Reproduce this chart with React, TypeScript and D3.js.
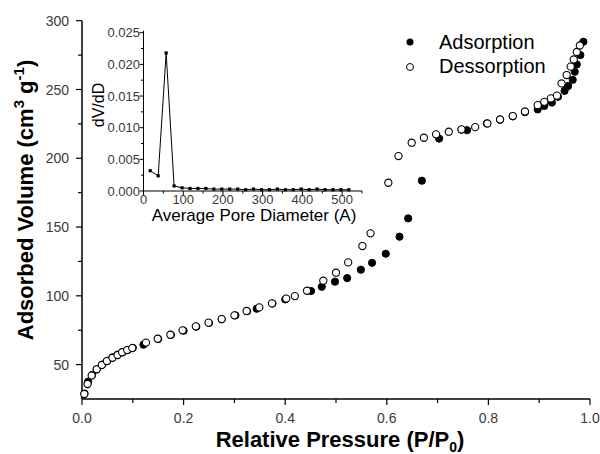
import React from "react";
import * as d3 from "d3";

// Main isotherm data (P/P0, volume cm3/g)
const adsorptionP = [0.005, 0.012, 0.02, 0.029, 0.04, 0.05, 0.06, 0.07, 0.08, 0.09, 0.1, 0.121, 0.15, 0.175, 0.2, 0.225, 0.25, 0.275, 0.302, 0.325, 0.344, 0.375, 0.4, 0.451, 0.472, 0.498, 0.522, 0.549, 0.571, 0.598, 0.625, 0.642, 0.669, 0.703, 0.747, 0.758, 0.797, 0.823, 0.848, 0.872, 0.897, 0.91, 0.925, 0.937, 0.95, 0.957, 0.966, 0.97, 0.974, 0.981, 0.987];
const adsorptionV = [29, 37.6, 42.5, 46.6, 50, 52.8, 55.2, 57.2, 59, 60.7, 62.2, 64.5, 68.6, 71.6, 74.7, 77.6, 80.3, 83, 85.8, 88.8, 90.6, 94.4, 97.4, 103.5, 106.6, 110.3, 112.9, 119, 124, 130.6, 143, 156.3, 183.7, 214.3, 220.8, 220.4, 225.3, 228, 230.5, 233.5, 235.5, 238, 240.5, 244.7, 249, 252.5, 257, 262.9, 268.2, 275, 284.7];

const desorptionP = [0.0045, 0.011, 0.019, 0.029, 0.039, 0.049, 0.06, 0.07, 0.079, 0.089, 0.099, 0.126, 0.149, 0.174, 0.198, 0.224, 0.249, 0.275, 0.3, 0.324, 0.349, 0.374, 0.402, 0.419, 0.443, 0.475, 0.5, 0.524, 0.552, 0.568, 0.603, 0.623, 0.649, 0.673, 0.697, 0.722, 0.747, 0.774, 0.798, 0.823, 0.848, 0.872, 0.897, 0.91, 0.923, 0.935, 0.944, 0.954, 0.962, 0.968, 0.974, 0.98];
const desorptionV = [28.6, 35.9, 42, 46.6, 49.7, 52.6, 55, 57, 59, 60.6, 62, 66, 68.8, 71.7, 74.9, 77.8, 80.5, 83.1, 85.8, 89, 91.6, 94.5, 98, 99.8, 103.7, 111, 116.8, 124.3, 136.2, 145.4, 182.2, 201.6, 211.3, 214.9, 217.4, 219.3, 221, 222.6, 225.3, 228.2, 230.7, 234, 238.6, 241, 243.5, 245.5, 254.4, 260.5, 266.6, 271.8, 277.3, 282];

// Inset: pore size distribution
const poreD = [17, 37, 57, 77, 97, 117, 137, 157, 177, 197, 217, 237, 257, 277, 297, 317, 337, 357, 377, 397, 417, 437, 457, 477, 497, 517];
const poreDV = [0.0032, 0.0024, 0.0218, 0.0008, 0.0005, 0.0004, 0.0004, 0.0004, 0.0003, 0.0003, 0.0003, 0.0003, 0.0002, 0.0003, 0.0002, 0.0002, 0.0003, 0.0002, 0.0002, 0.0003, 0.0002, 0.0003, 0.0002, 0.0002, 0.0002, 0.0002];

const mainXTicks = [0, 0.2, 0.4, 0.6, 0.8, 1.0];
const mainXMinor = [0.1, 0.3, 0.5, 0.7, 0.9];
const mainYTicks = [50, 100, 150, 200, 250, 300];
const mainYMinor = [75, 125, 175, 225, 275];
const insetXTicks = [0, 100, 200, 300, 400, 500];
const insetXMinor = [50, 150, 250, 350, 450, 550];
const insetYTicks = [0, 0.005, 0.01, 0.015, 0.02, 0.025];
const insetYMinor = [0.0025, 0.0075, 0.0125, 0.0175, 0.0225];

const legendLabels = ["Adsorption", "Dessorption"];

const FONT = "'Liberation Sans', Arial, Helvetica, sans-serif";

export default function App() {
  const x = d3.scaleLinear().domain([0, 1]).range([82, 590]);
  const y = d3.scaleLinear().domain([25, 300]).range([399, 20.7]);
  const ix = d3.scaleLinear().domain([0, 550]).range([143.5, 362]);
  const iy = d3.scaleLinear().domain([0, 0.025]).range([191, 32.7]);

  const ads = adsorptionP.map((p, i) => [p, adsorptionV[i]]);
  const des = desorptionP.map((p, i) => [p, desorptionV[i]]);
  const pore = poreD.map((d, i) => [d, poreDV[i]]);
  const line = d3.line<number[]>().x((d) => ix(d[0])).y((d) => iy(d[1]));

  const tickColor = "#3a3a3a";
  const r = 3.6;

  return (
    <svg width={600} height={454} style={{ position: "absolute", left: 0, top: 0, background: "#fff" }} fontFamily={FONT}>
      <rect x={0} y={0} width={600} height={454} fill="#fff" />
      {/* Main axes */}
      <line x1={x(0)} x2={x(0)} y1={y(300)} y2={y(25)} stroke="#000" strokeWidth={1.5} />
      <line x1={x(0)} x2={x(1)} y1={y(25)} y2={y(25)} stroke="#000" strokeWidth={1.5} />
      {mainXTicks.map((t) => (
        <g key={"mx" + t}>
          <line x1={x(t)} x2={x(t)} y1={y(25)} y2={y(25) + 6} stroke="#000" strokeWidth={1.2} />
          <text x={x(t)} y={423} textAnchor="middle" fontSize={14} fill={tickColor}>{d3.format(".1f")(t)}</text>
        </g>
      ))}
      {mainXMinor.map((t) => (
        <line key={"mxm" + t} x1={x(t)} x2={x(t)} y1={y(25)} y2={y(25) + 4} stroke="#000" strokeWidth={1.2} />
      ))}
      {mainYTicks.map((t) => (
        <g key={"my" + t}>
          <line x1={x(0) - 6} x2={x(0)} y1={y(t)} y2={y(t)} stroke="#000" strokeWidth={1.2} />
          <text x={69} y={y(t)} dy="0.36em" textAnchor="end" fontSize={14} fill={tickColor}>{t}</text>
        </g>
      ))}
      {mainYMinor.map((t) => (
        <line key={"mym" + t} x1={x(0) - 4} x2={x(0)} y1={y(t)} y2={y(t)} stroke="#000" strokeWidth={1.2} />
      ))}
      <text x={340} y={447} textAnchor="middle" fontSize={22} fontWeight="bold" fill="#000">
        Relative Pressure (P/P<tspan fontSize={14} dy={5}>0</tspan><tspan dy={-5}>)</tspan>
      </text>
      <text transform={`translate(33,200) rotate(-90)`} textAnchor="middle" fontSize={22} fontWeight="bold" fill="#000">
        Adsorbed Volume (cm<tspan fontSize={15} dy={-9}>3</tspan><tspan dy={9}> g</tspan><tspan fontSize={15} dy={-9}>-1</tspan><tspan dy={9}>)</tspan>
      </text>

      {/* Data */}
      {ads.map((d, i) => (
        <circle key={"a" + i} cx={x(d[0])} cy={y(d[1])} r={r} fill="#000" stroke="#000" strokeWidth={1} />
      ))}
      {des.map((d, i) => (
        <circle key={"d" + i} cx={x(d[0])} cy={y(d[1])} r={r} fill="#fff" stroke="#000" strokeWidth={1.1} />
      ))}

      {/* Legend */}
      <circle cx={410} cy={42} r={3.5} fill="#000" />
      <text x={439} y={48.5} fontSize={20} fill="#000">{legendLabels[0]}</text>
      <circle cx={410} cy={67} r={3.5} fill="#fff" stroke="#000" strokeWidth={1} />
      <text x={439} y={73} fontSize={20} fill="#000">{legendLabels[1]}</text>

      {/* Inset */}
      <line x1={ix(0)} x2={ix(0)} y1={iy(0.025) - 2} y2={iy(0)} stroke="#000" strokeWidth={1} />
      <line x1={ix(0)} x2={ix(550)} y1={iy(0)} y2={iy(0)} stroke="#000" strokeWidth={1} />
      {insetXTicks.map((t) => (
        <g key={"ix" + t}>
          <line x1={ix(t)} x2={ix(t)} y1={iy(0)} y2={iy(0) + 4} stroke="#000" strokeWidth={1} />
          <text x={ix(t)} y={203.5} textAnchor="middle" fontSize={13} fill={tickColor}>{t}</text>
        </g>
      ))}
      {insetXMinor.map((t) => (
        <line key={"ixm" + t} x1={ix(t)} x2={ix(t)} y1={iy(0)} y2={iy(0) + 2.5} stroke="#000" strokeWidth={1} />
      ))}
      {insetYTicks.map((t) => (
        <g key={"iy" + t}>
          <line x1={ix(0) - 4} x2={ix(0)} y1={iy(t)} y2={iy(t)} stroke="#000" strokeWidth={1} />
          <text x={140} y={iy(t)} dy="0.36em" textAnchor="end" fontSize={13} fill={tickColor}>{d3.format(".3f")(t)}</text>
        </g>
      ))}
      {insetYMinor.map((t) => (
        <line key={"iym" + t} x1={ix(0) - 2.5} x2={ix(0)} y1={iy(t)} y2={iy(t)} stroke="#000" strokeWidth={1} />
      ))}
      <path d={line(pore) || ""} fill="none" stroke="#000" strokeWidth={1} />
      {pore.map((d, i) => (
        <rect key={"p" + i} x={ix(d[0]) - 1.6} y={iy(d[1]) - 1.6} width={3.2} height={3.2} fill="#000" />
      ))}
      <text x={254} y={221} textAnchor="middle" fontSize={17} fill="#000">Average Pore Diameter (A)</text>
      <text transform={`translate(104,105) rotate(-90)`} textAnchor="middle" fontSize={16} fill="#000">dV/dD</text>
    </svg>
  );
}
